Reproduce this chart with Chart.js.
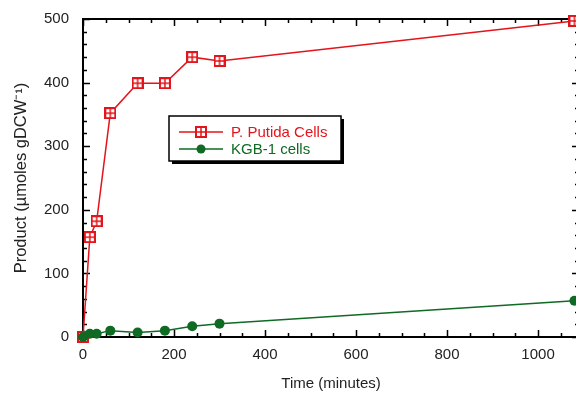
<!DOCTYPE html>
<html>
<head>
<meta charset="utf-8">
<script src="https://cdn.jsdelivr.net/npm/chart.js@4.4.0/dist/chart.umd.min.js"></script>
<style>
  html, body { margin: 0; padding: 0; background: #fff; overflow: hidden; }
  #wrap { width: 576px; height: 393px; overflow: hidden; position: relative; }
  #wrap canvas { position: absolute; left: 0; top: 0; }
</style>
</head>
<body>
<div id="wrap"><canvas id="chart" width="590" height="393"></canvas></div>
<script>
// sampling times (minutes) and product (umoles gDCW-1)
const minutes = [0, 15, 30, 60, 120, 180, 240, 300, 1080];
const putidaCells = [0, 157, 182, 352, 399, 399, 440, 434, 497];
const kgbCells = [0, 5, 5, 10, 7, 10, 17, 21, 57];
const seriesNames = ["P. Putida Cells", "KGB-1 cells"];
const xTickStep = 200;
const yTickStep = 100;

const RED = "#e3141b";
const GREEN = "#0f6a24";
const FONT = "'Liberation Sans', Arial, sans-serif";

// square with a cross inside, as drawn by the original plotting program
function boxCross(size) {
    const c = document.createElement("canvas");
    c.width = size; c.height = size;
    const g = c.getContext("2d");
    g.fillStyle = "#fff";
    g.fillRect(1, 1, size - 2, size - 2);
    g.strokeStyle = RED;
    g.lineWidth = 2;
    g.strokeRect(1, 1, size - 2, size - 2);
    g.lineWidth = 1.5;
    g.beginPath();
    g.moveTo(size / 2, 1); g.lineTo(size / 2, size - 1);
    g.moveTo(1, size / 2); g.lineTo(size - 1, size / 2);
    g.stroke();
    return c;
}
const redMarker = boxCross(12);

// frame with inward tick marks on all four sides
const framePlugin = {
    id: "frame",
    beforeDatasetsDraw(chart) {
        const { ctx, chartArea: a, scales: { x, y } } = chart;
        ctx.save();
        ctx.strokeStyle = "#000";
        ctx.lineWidth = 1.5;
        ctx.beginPath();
        for (let v = 0; v <= x.max; v += 50) {
            const px = Math.round(x.getPixelForValue(v)) + 0.5;
            const len = v % xTickStep === 0 ? 7 : 4;
            ctx.moveTo(px, a.bottom); ctx.lineTo(px, a.bottom - len);
            ctx.moveTo(px, a.top); ctx.lineTo(px, a.top + len);
        }
        for (let v = 0; v <= y.max; v += 20) {
            const py = Math.round(y.getPixelForValue(v)) + 0.5;
            const len = v % yTickStep === 0 ? 7 : 4;
            ctx.moveTo(a.left, py); ctx.lineTo(a.left + len, py);
            ctx.moveTo(a.right, py); ctx.lineTo(a.right - len, py);
        }
        ctx.stroke();
        ctx.lineWidth = 2;
        ctx.strokeRect(a.left, a.top, a.right - a.left, a.bottom - a.top);
        ctx.restore();
    }
};

// boxed legend inside the plot, with a drop shadow
const boxLegend = {
    id: "boxLegend",
    afterDatasetsDraw(chart) {
        const ctx = chart.ctx;
        const bx = 169, by = 116, bw = 172, bh = 45;
        ctx.save();
        ctx.fillStyle = "#000";
        ctx.fillRect(bx + 3, by + 3, bw, bh);
        ctx.fillStyle = "#fff";
        ctx.fillRect(bx, by, bw, bh);
        ctx.strokeStyle = "#000";
        ctx.lineWidth = 1.5;
        ctx.strokeRect(bx, by, bw, bh);
        ctx.font = "15px " + FONT;
        ctx.textBaseline = "middle";
        chart.data.datasets.forEach((ds, i) => {
            const ry = by + 16 + i * 17;
            ctx.strokeStyle = ds.borderColor;
            ctx.lineWidth = 1.5;
            ctx.beginPath();
            ctx.moveTo(bx + 10, ry); ctx.lineTo(bx + 54, ry);
            ctx.stroke();
            if (i === 0) {
                ctx.drawImage(redMarker, bx + 32 - 6, ry - 6);
            } else {
                ctx.fillStyle = ds.backgroundColor;
                ctx.beginPath();
                ctx.arc(bx + 32, ry, 4.5, 0, Math.PI * 2);
                ctx.fill();
            }
            ctx.fillStyle = ds.borderColor;
            ctx.fillText(ds.label, bx + 62, ry + 1);
        });
        ctx.restore();
    }
};

const hiddenGrid = { display: true, color: "rgba(0,0,0,0)", drawOnChartArea: false, drawTicks: true, tickLength: 6 };

new Chart(document.getElementById("chart"), {
    type: "line",
    data: {
        datasets: [
            {
                label: seriesNames[0],
                data: minutes.map((m, i) => ({ x: m, y: putidaCells[i] })),
                borderColor: RED,
                backgroundColor: "#fff",
                borderWidth: 1.5,
                pointStyle: redMarker,
                tension: 0,
                clip: false,
                order: 2,
            },
            {
                label: seriesNames[1],
                data: minutes.map((m, i) => ({ x: m, y: kgbCells[i] })),
                borderColor: GREEN,
                backgroundColor: GREEN,
                borderWidth: 1.5,
                pointStyle: "circle",
                pointRadius: 5,
                pointBorderWidth: 0,
                tension: 0,
                clip: false,
                order: 1,
            },
        ],
    },
    options: {
        responsive: false,
        animation: false,
        layout: { padding: { top: 19, right: 11, left: 0, bottom: 0 } },
        scales: {
            x: {
                type: "linear",
                min: 0,
                max: 1090,
                grid: { display: false, drawTicks: false },
                border: { display: false },
                ticks: {
                    stepSize: xTickStep,
                    includeBounds: false,
                    padding: 9,
                    color: "#222",
                    font: { family: FONT, size: 15 },
                    maxRotation: 0,
                    callback: v => String(v),
                },
                title: {
                    display: true,
                    text: "Time (minutes)",
                    color: "#222",
                    font: { family: FONT, size: 15 },
                    padding: { top: 0, bottom: 0 },
                },
                afterFit: s => { s.height = 56; },
            },
            y: {
                min: 0,
                max: 500,
                grid: hiddenGrid,
                border: { display: false },
                ticks: {
                    stepSize: yTickStep,
                    padding: 8,
                    color: "#222",
                    font: { family: FONT, size: 15 },
                },
                title: {
                    display: true,
                    text: "Product (µmoles gDCW⁻¹)",
                    color: "#222",
                    font: { family: FONT, size: 16.5 },
                    padding: { top: 12, bottom: 0 },
                },
                afterFit: s => { s.width = 83; },
            },
        },
        plugins: {
            legend: { display: false },
            tooltip: { enabled: false },
        },
    },
    plugins: [framePlugin, boxLegend],
});
</script>
</body>
</html>
